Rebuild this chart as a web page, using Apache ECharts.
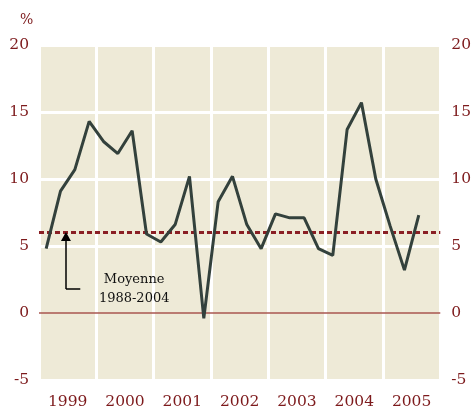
<!DOCTYPE html>
<html>
<head>
<meta charset="utf-8">
<script src="https://cdn.jsdelivr.net/npm/echarts@6/dist/echarts.min.js"></script>
<style>html,body{margin:0;padding:0;background:#fff}#c{width:474px;height:411px}</style>
</head>
<body>
<div id="c"></div>
<script>
// Data: quarterly growth rate (%), 1999 Q1 .. 2005 Q3
const years = ['1999', '2000', '2001', '2002', '2003', '2004', '2005'];
const quarterTimes = [
  1999.125, 1999.375, 1999.625, 1999.875,
  2000.125, 2000.375, 2000.625, 2000.875,
  2001.125, 2001.375, 2001.625, 2001.875,
  2002.125, 2002.375, 2002.625, 2002.875,
  2003.125, 2003.375, 2003.625, 2003.875,
  2004.125, 2004.375, 2004.625, 2004.875,
  2005.125, 2005.375, 2005.625
];
const values = [
  4.8, 9.1, 10.7, 14.3,
  12.8, 11.9, 13.6, 5.9,
  5.3, 6.6, 10.2, -0.4,
  8.3, 10.2, 6.6, 4.8,
  7.4, 7.1, 7.1, 4.8,
  4.3, 13.7, 15.7, 10.0,
  6.5, 3.2, 7.3
];
const average = 6.0;               // Moyenne 1988-2004
const yTicks = [-5, 0, 5, 10, 15, 20];
const arrowX = [1999.47, 1999.72]; // annotation arrow (data space)
const arrowY = [1.8, 5.7];
const noteAt = [2000.66, 1.75];
const noteText = 'Moyenne\n1988-2004';

const RED = '#7d1a1c';
const FONT = 'DejaVu Serif';
const BG = '#eeead7';

const chart = echarts.init(document.getElementById('c'), null, {renderer: 'canvas'});
const points = quarterTimes.map((t, i) => [t, values[i]]);

chart.setOption({
  animation: false,
  title: {
    text: '%', left: 15, top: 8,
    textStyle: {color: RED, fontFamily: FONT, fontSize: 14, fontWeight: 'normal'}
  },
  grid: {
    left: 39, right: 31, top: 45, bottom: 31,
    show: true, backgroundColor: BG, borderWidth: 0
  },
  xAxis: [{
    type: 'value', min: 1999, max: 2006, interval: 1,
    axisLine: {show: false}, axisTick: {show: false}, axisLabel: {show: false},
    splitLine: {show: true, lineStyle: {color: '#ffffff', width: 3}}
  }, {
    type: 'category', data: years, boundaryGap: true, position: 'bottom',
    axisLine: {show: false}, axisTick: {show: false},
    axisLabel: {color: RED, fontFamily: FONT, fontSize: 15.5, margin: 14},
    splitLine: {show: false}
  }],
  yAxis: [{
    type: 'value', min: yTicks[0], max: yTicks[yTicks.length - 1], interval: 5,
    position: 'left',
    axisLine: {show: false}, axisTick: {show: false},
    axisLabel: {color: RED, fontFamily: FONT, fontSize: 15.5, margin: 10},
    splitLine: {show: true, lineStyle: {color: ['#ffffff', BG, '#ffffff', '#ffffff', '#ffffff', '#ffffff'], width: 3}}
  }, {
    type: 'value', min: yTicks[0], max: yTicks[yTicks.length - 1], interval: 5,
    position: 'right',
    axisLine: {show: false}, axisTick: {show: false},
    axisLabel: {color: RED, fontFamily: FONT, fontSize: 15.5, margin: 11},
    splitLine: {show: false}
  }],
  series: [{
    type: 'line',
    xAxisIndex: 0, yAxisIndex: 0,
    data: points,
    symbol: 'none',
    lineStyle: {color: '#33413c', width: 3},
    z: 5,
    markLine: {
      silent: true,
      symbol: 'none',
      label: {show: false},
      data: [
        {yAxis: 0, lineStyle: {color: '#a9564f', width: 1.5, type: 'solid'}},
        {yAxis: average, lineStyle: {color: '#8a1f24', width: 3, type: [5, 3]}},
        [
          {coord: [arrowX[0], arrowY[0]], symbol: 'none', lineStyle: {color: '#000', width: 1.5, type: 'solid'}},
          {coord: [arrowX[0], arrowY[1]], symbol: 'triangle', symbolSize: [10, 9], symbolOffset: [0, 0]}
        ],
        [
          {coord: [arrowX[0], arrowY[0]], symbol: 'none', lineStyle: {color: '#000', width: 1.5, type: 'solid'}},
          {coord: [arrowX[1], arrowY[0]], symbol: 'none'}
        ]
      ]
    },
    markPoint: {
      silent: true,
      symbol: 'circle', symbolSize: 0,
      data: [{
        coord: noteAt,
        label: {
          show: true, formatter: noteText, position: 'inside',
          color: '#111', fontFamily: FONT, fontSize: 13, lineHeight: 19, align: 'center'
        }
      }]
    }
  }]
});
</script>
</body>
</html>
